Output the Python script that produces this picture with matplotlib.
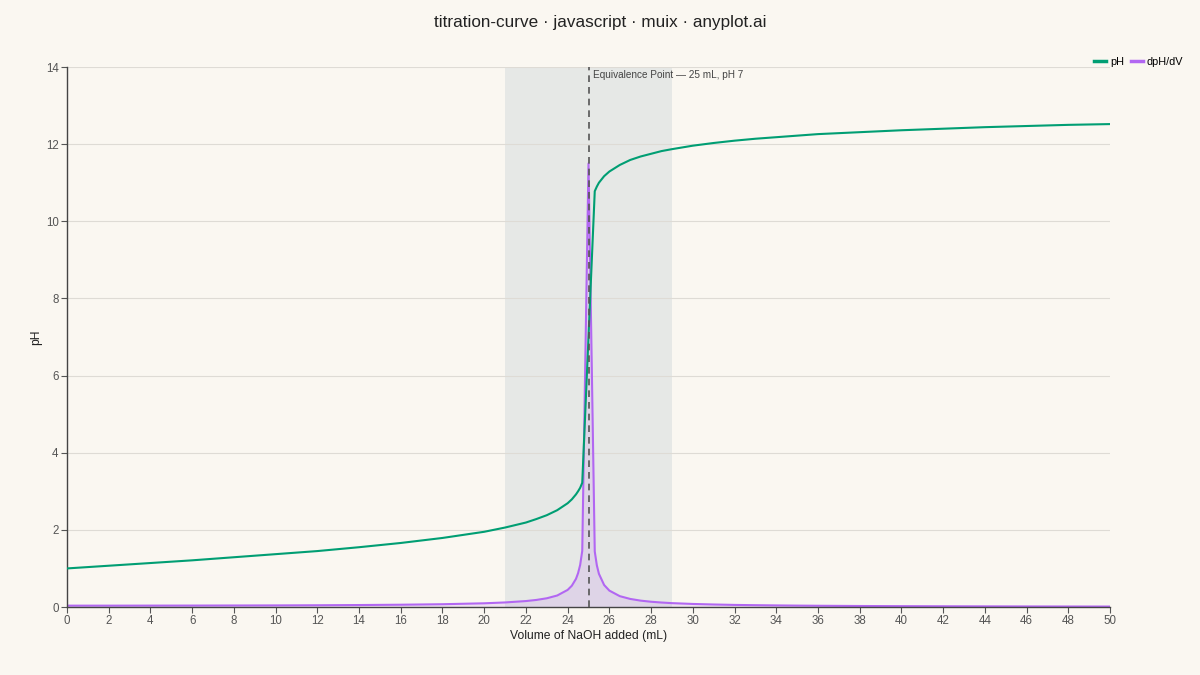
import matplotlib
matplotlib.use("Agg")
import matplotlib.pyplot as plt

# volumes of NaOH (mL) and values
volume = [0, 2, 4, 6, 8, 10, 12, 14, 16, 18, 20,
          21, 22, 22.5, 23, 23.5, 24,
          24.2, 24.4, 24.5, 24.6, 24.7,
          25,
          25.3, 25.4, 25.5, 25.75, 26,
          26.5, 27, 27.5, 28, 28.5, 29,
          30, 31, 32, 33, 34, 35, 36,
          38, 40, 42, 44, 46, 48, 50]
ph = [1.00, 1.07, 1.14, 1.21, 1.29, 1.37, 1.45, 1.55, 1.66, 1.79, 1.95,
      2.06, 2.19, 2.28, 2.38, 2.51, 2.69,
      2.79, 2.92, 3.00, 3.09, 3.22,
      7.00,
      10.78, 10.90, 11.00, 11.17, 11.29,
      11.46, 11.59, 11.68, 11.75, 11.82, 11.87,
      11.96, 12.03, 12.09, 12.14, 12.18, 12.22, 12.26,
      12.31, 12.36, 12.40, 12.44, 12.47, 12.50, 12.52]
dph_dv = [0.035, 0.035, 0.036, 0.037, 0.039, 0.041, 0.045, 0.051, 0.059, 0.072, 0.096,
          0.118, 0.154, 0.183, 0.226, 0.298, 0.443,
          0.551, 0.73, 0.877, 1.09, 1.455,
          11.5,
          1.44, 1.08, 0.86, 0.57, 0.425,
          0.281, 0.209, 0.165, 0.136, 0.116, 0.100,
          0.079, 0.065, 0.054, 0.047, 0.041, 0.036, 0.032,
          0.026, 0.022, 0.019, 0.0165, 0.0145, 0.0129, 0.0116]

x_ticks = list(range(0, 51, 2))
y_ticks = list(range(0, 15, 2))
equiv_volume = 25
band = (21, 29)

bg = "#FAF7F1"
green = "#009E73"
purple = "#B267F2"

plt.rcParams["font.family"] = ["Liberation Sans", "DejaVu Sans"]

fig = plt.figure(figsize=(12, 6.75), dpi=100, facecolor=bg)
ax = fig.add_axes([67 / 1200, 1 - 607 / 675, (1110 - 67) / 1200, (607 - 67) / 675])
ax.set_facecolor(bg)

ax.axvspan(band[0], band[1], color="#E6E8E6", zorder=0, lw=0)
for y in y_ticks[1:]:
    ax.axhline(y, color="#DEDBD5", lw=0.8, zorder=0.5)

ax.fill_between(volume, dph_dv, 0, color=purple, alpha=0.15, lw=0, zorder=1)
ax.plot(volume, dph_dv, color=purple, lw=1.5, label="dpH/dV", zorder=2)
ax.plot(volume, ph, color=green, lw=1.5, label="pH", zorder=3)

ax.axvline(equiv_volume, color="#555555", lw=1.2, ls=(0, (4, 3)), zorder=4)
ax.text(equiv_volume + 0.2, 13.79, "Equivalence Point — 25 mL, pH 7", fontsize=7.2,
        color="#444444", va="center", ha="left")

ax.set_xlim(0, 50)
ax.set_ylim(0, 14)
ax.set_xticks(x_ticks)
ax.set_yticks(y_ticks)
ax.tick_params(labelsize=8.3, colors="#555555", length=4, width=0.8, pad=2)
for s in ["top", "right"]:
    ax.spines[s].set_visible(False)
for s in ["left", "bottom"]:
    ax.spines[s].set_color("#444444")
    ax.spines[s].set_linewidth(1)

ax.set_xlabel("Volume of NaOH added (mL)", fontsize=8.7, color="#222222", labelpad=2)
ax.set_ylabel("pH", fontsize=8.7, color="#222222")
ax.yaxis.set_label_coords(-25 / 1043, 0.5)

h, l = ax.get_legend_handles_labels()
fig.legend([h[1], h[0]], [l[1], l[0]], loc="center right", bbox_to_anchor=(0.992, 1 - 62 / 675),
           ncol=2, frameon=False, fontsize=7.8, handlelength=1.1, columnspacing=0.6,
           handletextpad=0.35, borderpad=0.2)
for line in fig.legends[0].get_lines():
    line.set_linewidth(2.5)

fig.text(0.5, 1 - 22 / 675, "titration-curve · javascript · muix · anyplot.ai", fontsize=12.3,
         color="#222222", ha="center", va="center")

fig.savefig("out.png", dpi=100, facecolor=bg)
